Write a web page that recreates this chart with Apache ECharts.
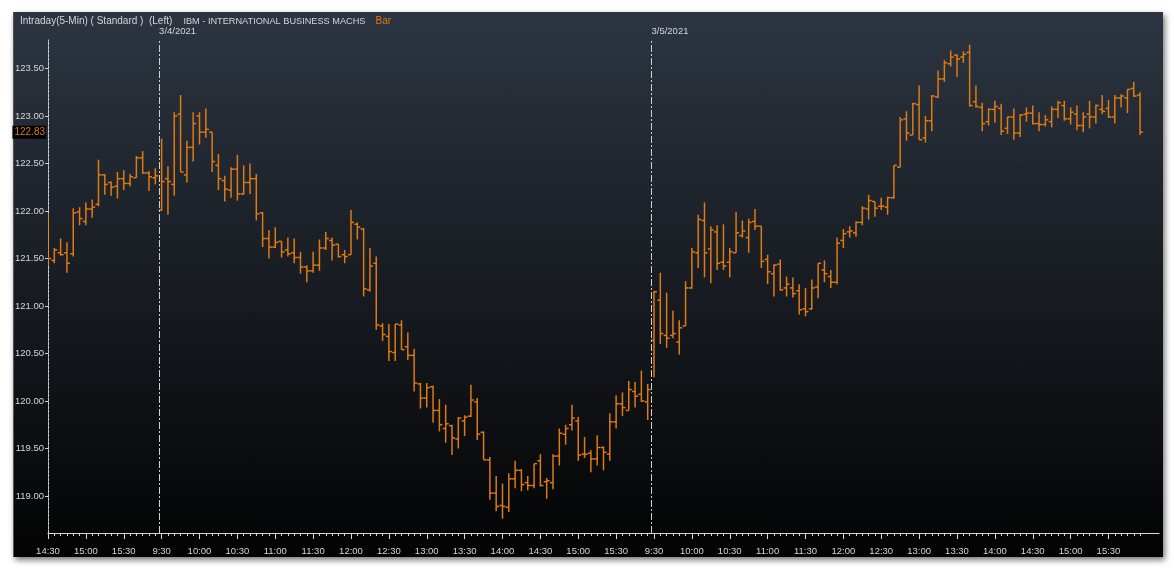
<!DOCTYPE html>
<html>
<head>
<meta charset="utf-8">
<script src="https://cdn.jsdelivr.net/npm/echarts@6/dist/echarts.min.js"></script>
<style>
  html, body { margin: 0; padding: 0; background: #ffffff; }
  #panel {
    position: absolute; left: 13px; top: 12px; width: 1149px; height: 545px;
    background: linear-gradient(to bottom, #2c3541 0%, #181c22 50%, #030303 100%);
    box-shadow: 2px 3px 6px rgba(0, 0, 0, 0.55);
    border-left: 1px solid #555;
  }
  #chart { position: absolute; left: 0; top: 0; width: 1174px; height: 570px; }
</style>
</head>
<body>
<div id="panel"></div>
<div id="chart"></div>
<script>
// IBM 5-min bars, 3/3 14:30 -> 3/5 15:55
var sessions = [
  { date: '3/3/2021', startHour: 14, startMin: 30, bars: 18 },
  { date: '3/4/2021', startHour: 9, startMin: 30, bars: 78 },
  { date: '3/5/2021', startHour: 9, startMin: 30, bars: 78 }
];

var opens = [
  121.90,121.48,121.56,121.56,121.55,121.99,121.89,122.02,122.07,122.38,
  122.30,122.26,122.34,122.29,122.35,122.56,122.40,122.35,122.01,122.34,
  122.28,123.02,122.38,122.67,123.00,122.83,122.83,122.48,122.32,122.22,
  122.44,122.18,122.30,122.34,121.98,121.71,121.62,121.68,121.59,121.56,
  121.51,121.41,121.37,121.43,121.61,121.69,121.65,121.54,121.54,121.86,
  121.81,121.17,121.45,120.79,120.68,120.51,120.80,120.57,120.48,120.18,
  120.03,120.15,119.90,119.71,119.74,119.60,119.79,119.84,119.99,119.67,
  119.38,119.03,118.90,118.88,119.18,119.27,119.14,119.11,119.37,119.15,
  119.14,119.42,119.65,119.75,119.79,119.44,119.45,119.39,119.51,119.44,
  119.78,119.97,119.90,120.10,120.07,119.99,120.64,121.06,120.69,120.69,
  120.62,120.79,121.19,121.56,121.90,121.60,121.78,121.46,121.46,121.56,
  121.74,121.72,121.89,121.84,121.49,121.34,121.44,121.19,121.19,121.16,
  120.97,120.97,121.20,121.38,121.31,121.25,121.69,121.78,121.77,121.88,
  122.02,122.10,122.05,122.04,122.14,122.46,122.97,122.80,123.12,122.77,
  122.95,123.20,123.39,123.55,123.64,123.62,123.67,123.15,123.09,122.94,
  123.07,123.08,122.87,122.99,122.82,123.02,123.03,122.92,122.91,122.94,
  123.07,123.11,122.97,123.02,122.90,123.02,122.99,123.07,123.08,122.99,
  123.19,123.19,123.29,123.22
];
var highs = [
  121.98,121.61,121.71,121.67,122.03,122.04,122.09,122.12,122.54,122.39,
  122.31,122.41,122.43,122.39,122.58,122.63,122.42,122.45,122.76,122.47,
  123.04,123.22,122.74,123.04,123.04,123.08,122.83,122.60,122.37,122.46,
  122.59,122.48,122.50,122.39,121.99,121.80,121.83,121.68,121.72,121.71,
  121.57,121.43,121.57,121.70,121.78,121.72,121.65,121.59,122.01,121.88,
  121.82,121.61,121.52,120.82,120.81,120.81,120.85,120.72,120.55,120.19,
  120.19,120.16,120.02,119.96,119.75,119.83,119.85,120.17,120.03,119.68,
  119.41,119.21,119.13,119.24,119.37,119.28,119.21,119.34,119.44,119.19,
  119.44,119.71,119.75,119.96,119.83,119.62,119.48,119.64,119.52,119.87,
  120.06,120.09,120.21,120.20,120.32,120.18,121.16,121.35,121.14,120.95,
  120.85,121.26,121.61,121.96,122.09,121.84,121.85,121.86,121.61,121.99,
  121.90,121.92,122.02,121.84,121.54,121.44,121.49,121.31,121.30,121.23,
  121.19,121.28,121.45,121.48,121.38,121.72,121.81,121.84,121.89,122.05,
  122.17,122.10,122.14,122.15,122.48,122.99,123.05,123.14,123.32,123.00,
  123.22,123.48,123.59,123.69,123.65,123.68,123.75,123.32,123.14,123.08,
  123.16,123.13,122.99,123.08,123.02,123.09,123.11,123.04,123.01,123.10,
  123.16,123.16,123.09,123.11,123.04,123.16,123.12,123.22,123.17,123.22,
  123.23,123.28,123.36,123.25
];
var lows = [
  121.43,121.45,121.53,121.35,121.52,121.85,121.85,121.93,122.05,122.17,
  122.16,122.13,122.22,122.26,122.35,122.39,122.21,122.28,122.00,121.96,
  122.16,122.41,122.30,122.52,122.70,122.77,122.41,122.22,122.10,122.14,
  122.11,122.17,122.18,121.90,121.62,121.50,121.61,121.51,121.52,121.45,
  121.34,121.25,121.35,121.37,121.59,121.48,121.51,121.45,121.54,121.70,
  121.10,121.15,120.75,120.63,120.42,120.42,120.54,120.43,120.10,119.92,
  119.93,119.77,119.68,119.56,119.43,119.50,119.63,119.83,119.59,119.38,
  118.96,118.84,118.76,118.83,119.08,119.05,119.06,119.08,119.10,118.97,
  119.07,119.32,119.54,119.69,119.37,119.40,119.25,119.32,119.27,119.37,
  119.71,119.84,119.90,119.93,119.99,119.80,120.25,120.60,120.56,120.66,
  120.49,120.79,121.18,121.40,121.30,121.24,121.38,121.38,121.30,121.56,
  121.72,121.56,121.80,121.40,121.23,121.10,121.16,121.10,121.09,120.91,
  120.89,120.96,121.08,121.25,121.19,121.23,121.61,121.72,121.73,121.85,
  121.91,121.94,122.01,121.96,122.13,122.46,122.74,122.80,122.75,122.72,
  122.84,123.19,123.36,123.52,123.41,123.56,123.10,123.09,122.84,122.90,
  122.93,122.80,122.81,122.75,122.78,122.94,122.91,122.84,122.89,122.88,
  122.98,122.95,122.91,122.85,122.83,122.87,122.92,123.02,122.98,122.92,
  123.09,123.03,123.20,122.80
];
var closes = [
  121.50,121.59,121.54,121.45,121.98,121.92,122.02,122.04,122.38,122.28,
  122.25,122.34,122.29,122.36,122.56,122.40,122.36,122.37,122.31,122.31,
  123.00,122.41,122.67,122.92,122.83,122.86,122.52,122.34,122.23,122.44,
  122.18,122.30,122.34,121.97,121.71,121.62,121.67,121.57,121.55,121.51,
  121.41,121.37,121.43,121.61,121.71,121.64,121.52,121.52,121.88,121.83,
  121.18,121.42,120.80,120.70,120.52,120.81,120.54,120.48,120.19,120.03,
  120.14,119.90,119.75,119.76,119.61,119.82,119.83,120.01,119.65,119.38,
  119.03,118.89,118.89,119.18,119.27,119.12,119.11,119.34,119.11,119.16,
  119.42,119.66,119.71,119.82,119.43,119.44,119.39,119.51,119.46,119.78,
  119.97,119.93,120.12,120.05,120.00,120.12,121.15,120.71,120.66,120.71,
  120.77,121.19,121.57,121.91,121.56,121.80,121.45,121.42,121.57,121.77,
  121.79,121.88,121.84,121.47,121.36,121.43,121.17,121.23,121.13,120.96,
  120.94,121.19,121.45,121.34,121.25,121.66,121.76,121.79,121.88,122.03,
  122.11,122.03,122.05,122.14,122.48,122.96,122.82,123.13,122.75,122.95,
  123.21,123.39,123.56,123.62,123.60,123.65,123.11,123.10,122.92,123.07,
  123.10,122.84,122.99,122.82,123.01,123.03,122.92,122.91,122.96,123.07,
  123.14,122.97,123.04,122.90,122.99,122.99,123.11,123.05,122.99,123.19,
  123.21,123.28,123.21,122.83
];
var yTicks = [119.0, 119.5, 120.0, 120.5, 121.0, 121.5, 122.0, 122.5, 123.0, 123.5];

var orange = '#dd7a14';
var textColor = '#d4d6d8';
var fontName = '"Liberation Sans", Arial, sans-serif';

// category labels, one per 5-min bar, plus a little empty room at the right
var times = [];
var dayStarts = [];
sessions.forEach(function (s) {
  dayStarts.push({ index: times.length, date: s.date });
  for (var k = 0; k < s.bars; k++) {
    var m = s.startHour * 60 + s.startMin + k * 5;
    var mm = m % 60;
    times.push(Math.floor(m / 60) + ':' + (mm < 10 ? '0' + mm : mm));
  }
});
var barCount = times.length;
var padSlots = 3;
for (var p = 0; p < padSlots; p++) times.push('');
var lastSlot = times.length - 1;

var bars = [];
for (var i = 0; i < barCount; i++) {
  bars.push([i, opens[i], closes[i], highs[i], lows[i]]);
}

function renderBar(params, api) {
  var idx = api.value(0);
  var hi = api.coord([idx, api.value(3)]);
  var lo = api.coord([idx, api.value(4)]);
  var op = api.coord([idx, api.value(1)]);
  var cl = api.coord([idx, api.value(2)]);
  var style = { stroke: orange, lineWidth: 1.5 };
  return {
    type: 'group',
    children: [
      { type: 'line', shape: { x1: hi[0], y1: hi[1], x2: lo[0], y2: lo[1] }, style: style },
      { type: 'line', shape: { x1: op[0] - 3, y1: op[1], x2: op[0], y2: op[1] }, style: style },
      { type: 'line', shape: { x1: cl[0], y1: cl[1], x2: cl[0] + 3, y2: cl[1] }, style: style }
    ]
  };
}

var chart = echarts.init(document.getElementById('chart'), null, { renderer: 'canvas' });

var majorTick = function (index) { return index < barCount && index % 6 === 0; };

var option = {
  backgroundColor: 'transparent',
  animation: false,
  textStyle: { fontFamily: fontName },
  title: {
    left: 15,
    top: 7,
    text: '{a|Intraday(5-Min) ( Standard )  (Left)    }{c|IBM - INTERNATIONAL BUSINESS MACHS}  {b|Bar}',
    textStyle: {
      fontWeight: 'normal',
      rich: {
        a: { color: textColor, fontSize: 10, fontWeight: 'normal', fontFamily: fontName },
        c: { color: textColor, fontSize: 9.2, fontWeight: 'normal', fontFamily: fontName },
        b: { color: orange, fontSize: 10, fontWeight: 'normal', fontFamily: fontName }
      }
    }
  },
  grid: { left: 48, right: 15, top: 40, bottom: 37 },
  xAxis: [{
    // bar positions (slot index), hidden
    type: 'value',
    min: 0,
    max: lastSlot,
    position: 'bottom',
    show: false,
    splitLine: { show: false }
  }, {
    type: 'category',
    data: times,
    boundaryGap: false,
    position: 'bottom',
    axisLine: { show: true, lineStyle: { color: '#d8d8d8', width: 1 } },
    axisTick: {
      show: true, length: 3,
      interval: function (index) { return index < barCount; },
      lineStyle: { color: '#d8d8d8' }
    },
    axisLabel: { show: false },
    splitLine: { show: false }
  }, {
    type: 'category',
    data: times,
    boundaryGap: false,
    position: 'bottom',
    axisLine: { show: false },
    axisTick: { show: true, length: 6, interval: majorTick, lineStyle: { color: '#d8d8d8' } },
    axisLabel: { color: textColor, fontSize: 9.5, margin: 13, fontFamily: fontName, interval: majorTick },
    splitLine: { show: false }
  }],
  yAxis: {
    type: 'value',
    min: 118.61,
    max: 123.80,
    axisLine: { show: true, lineStyle: { color: '#cfcfcf', width: 1, type: [3, 1] } },
    axisTick: { show: true, length: 3, customValues: yTicks, lineStyle: { color: '#cfcfcf' } },
    axisLabel: {
      color: textColor, fontSize: 9.5, margin: 4, fontFamily: fontName,
      customValues: yTicks,
      formatter: function (v) { return v.toFixed(2); }
    },
    splitLine: { show: false }
  },
  series: [{
    type: 'custom',
    xAxisIndex: 0,
    renderItem: renderBar,
    data: bars,
    encode: { x: 0, y: [1, 2, 3, 4] },
    clip: true,
    markLine: {
      silent: true,
      symbol: 'none',
      animation: false,
      lineStyle: { color: '#d0d0d0', width: 1, type: [7, 2, 2, 2] },
      label: {
        show: true, position: 'end', formatter: '{b}', align: 'left',
        color: textColor, fontSize: 9.5, distance: 4, fontFamily: fontName
      },
      // session breaks sit just before the first bar of each day
      data: dayStarts.slice(1).map(function (d) {
        return { xAxis: d.index - 0.4, name: d.date };
      }).concat([{
        yAxis: closes[barCount - 1],
        name: closes[barCount - 1].toFixed(2),
        lineStyle: { color: 'rgba(0,0,0,0)', width: 1, type: 'solid' },
        label: {
          position: 'start', align: 'right', formatter: '{b}',
          color: orange, backgroundColor: '#000', padding: [2, 1, 1, 2],
          distance: 2, fontSize: 10
        }
      }])
    }
  }]
};

chart.setOption(option);
</script>
</body>
</html>
